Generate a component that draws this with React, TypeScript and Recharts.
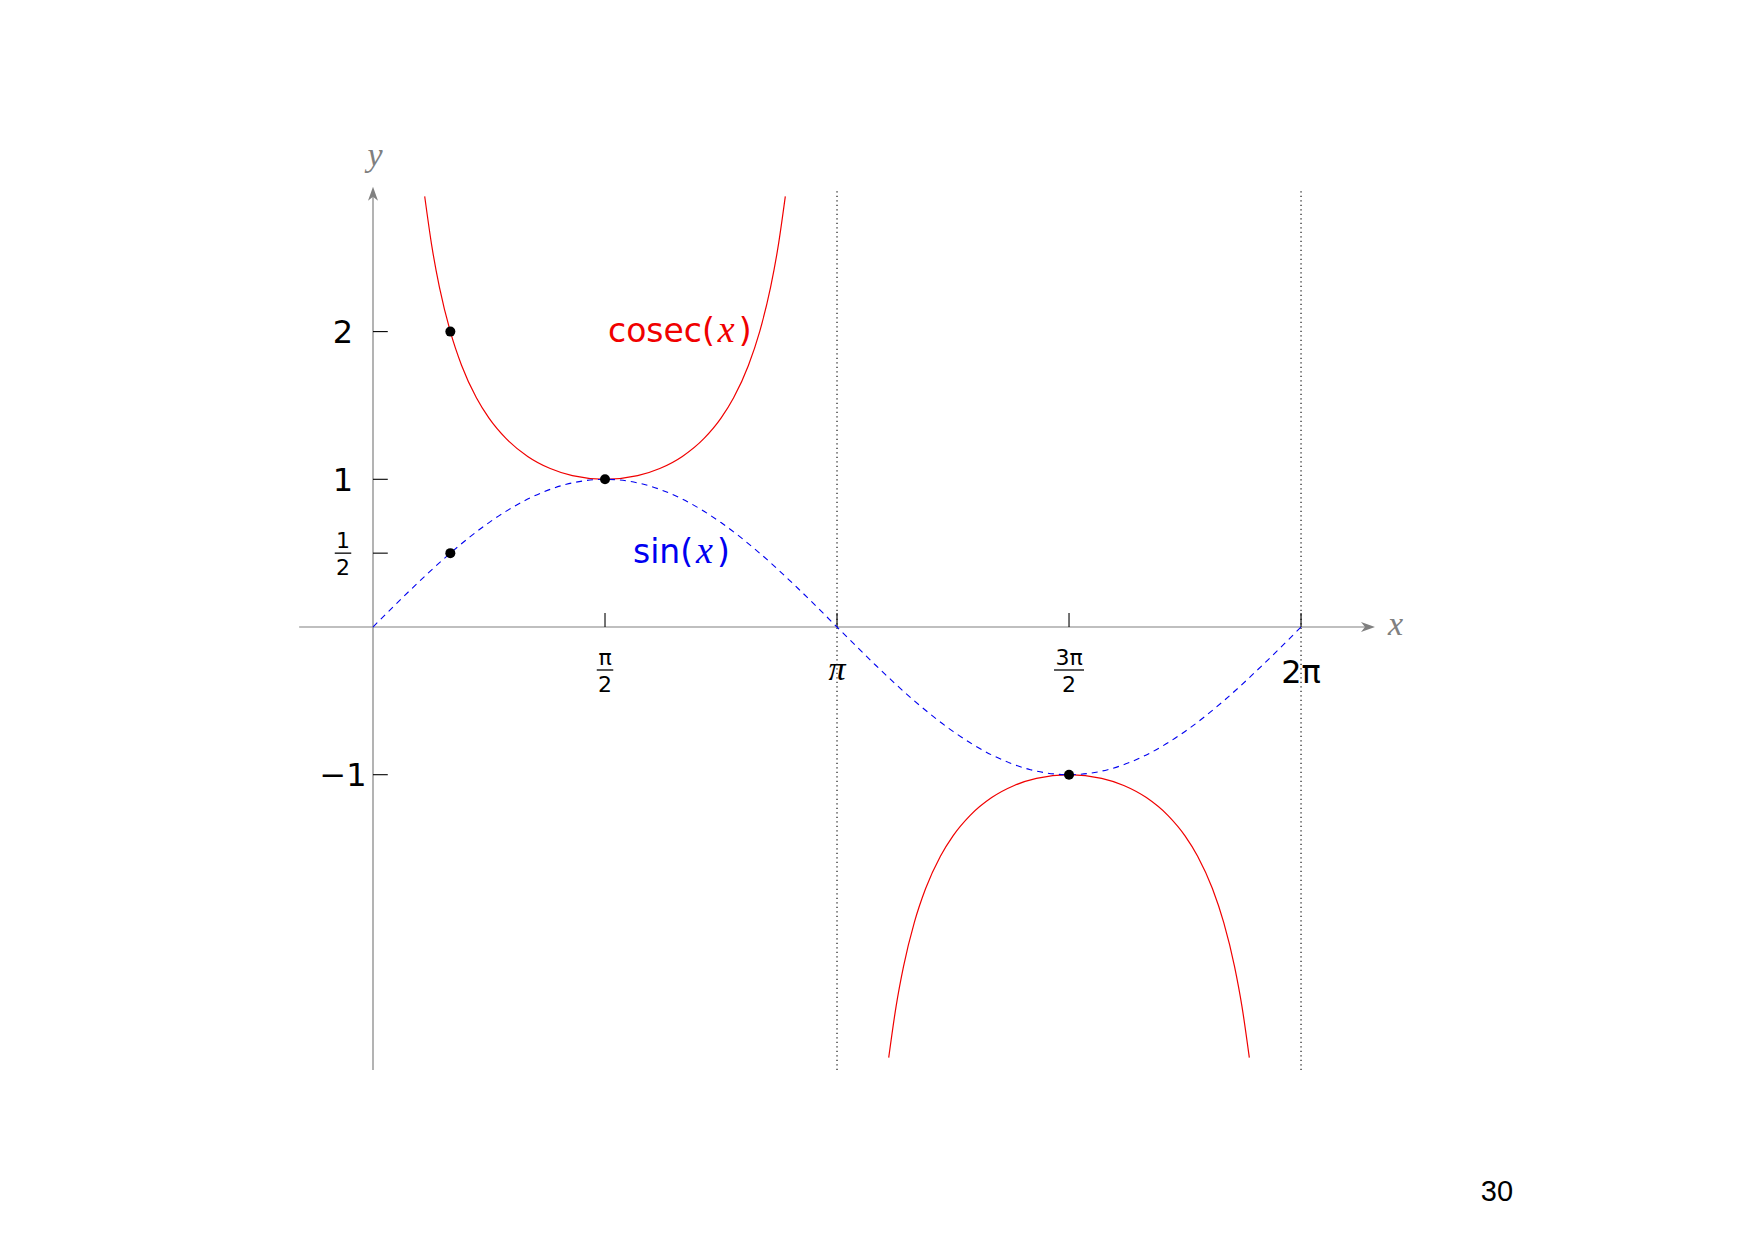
import {
  ComposedChart,
  Line,
  ReferenceDot,
  ReferenceLine,
  XAxis,
  YAxis,
} from "recharts"

// sin(x) sampled every pi/12 on [0, 2pi]
const sineX = [
  0, 0.2618, 0.5236, 0.7854, 1.0472, 1.309, 1.5708, 1.8326, 2.0944, 2.3562,
  2.618, 2.8798, 3.1416, 3.4034, 3.6652, 3.927, 4.1888, 4.4506, 4.7124,
  4.9742, 5.236, 5.4978, 5.7596, 6.0214, 6.2832,
]
const sineY = [
  0, 0.259, 0.5, 0.707, 0.866, 0.966, 1, 0.966, 0.866, 0.707, 0.5, 0.259, 0,
  -0.259, -0.5, -0.707, -0.866, -0.966, -1, -0.966, -0.866, -0.707, -0.5,
  -0.259, 0,
]

// cosec(x), upper branch on (0, pi), clipped near |y| = 2.9
const cosecUpperX = [
  0.35, 0.4, 0.45, 0.5236, 0.6, 0.7, 0.7854, 0.9, 1.0472, 1.2, 1.35, 1.5708,
  1.7916, 1.9416, 2.0944, 2.2416, 2.3562, 2.4416, 2.5416, 2.618, 2.6916,
  2.7416, 2.7916,
]
const cosecUpperY = [
  2.916, 2.568, 2.299, 2, 1.771, 1.552, 1.414, 1.277, 1.155, 1.073, 1.025, 1,
  1.025, 1.073, 1.155, 1.277, 1.414, 1.552, 1.771, 2, 2.299, 2.568, 2.916,
]

// cosec(x), lower branch on (pi, 2pi)
const cosecLowerX = [
  3.4916, 3.5416, 3.5916, 3.6652, 3.7416, 3.8416, 3.927, 4.0416, 4.1888,
  4.3416, 4.4916, 4.7124, 4.9332, 5.0832, 5.236, 5.3832, 5.4978, 5.5832,
  5.6832, 5.7596, 5.8332, 5.8832, 5.9332,
]
const cosecLowerY = [
  -2.916, -2.568, -2.299, -2, -1.771, -1.552, -1.414, -1.277, -1.155, -1.073,
  -1.025, -1, -1.025, -1.073, -1.155, -1.277, -1.414, -1.552, -1.771, -2,
  -2.299, -2.568, -2.916,
]

const markedX = [0.5236, 1.5708, 0.5236, 4.7124]
const markedY = [2, 1, 0.5, -1]

const xTickValues = [1.5708, 3.1416, 4.7124, 6.2832]
const xTickLabels = ["π/2", "π", "3π/2", "2π"]
const yTickValues = [2, 1, 0.5, -1]
const yTickLabels = ["2", "1", "1/2", "−1"]

const asymptoteX = [3.1416, 6.2832]

const curveNames = ["cosec", "sin"]
const curveLabelX = [1.591, 1.76]
const curveLabelY = [2, 0.5]

const X_DOMAIN: [number, number] = [-0.5, 6.8]
const Y_DOMAIN: [number, number] = [-3, 3]
const X_AXIS_END = 6.784
const Y_AXIS_END = 2.98

const K = 147.7
const ORIGIN_X = 373
const ORIGIN_Y = 627
const W = 1756
const H = 1242

const AXIS = "#808080"
const RED = "#f00000"
const BLUE = "#0000f0"
const SANS = "'DejaVu Sans', sans-serif"
const SERIF = "'Liberation Serif', serif"

const toPoints = (xs: number[], ys: number[]) =>
  xs.map((x, i) => ({ x, y: ys[i] }))

const sineData = toPoints(sineX, sineY)
const cosecUpper = toPoints(cosecUpperX, cosecUpperY)
const cosecLower = toPoints(cosecLowerX, cosecLowerY)

function arrowShape(p: any) {
  const { x1, y1, x2, y2 } = p
  const len = Math.hypot(x2 - x1, y2 - y1)
  const ux = (x2 - x1) / len
  const uy = (y2 - y1) / len
  const px = -uy
  const py = ux
  const bx = x2 - ux * 14
  const by = y2 - uy * 14
  const nx = x2 - ux * 10
  const ny = y2 - uy * 10
  const d = `M${x2},${y2} L${bx + px * 5},${by + py * 5} L${nx},${ny} L${bx - px * 5},${by - py * 5} Z`
  return (
    <g>
      <line x1={x1} y1={y1} x2={nx} y2={ny} stroke={AXIS} strokeWidth={1.2} />
      <path d={d} fill={AXIS} />
    </g>
  )
}

function Fraction({ x, bar, label }: { x: number; bar: number; label: string }) {
  const [num, den] = label.split("/")
  const width = 13.5 * Math.max(num.length, den.length) + 3
  return (
    <g fontFamily={SANS} fontSize={22} fill="#000" textAnchor="middle">
      <text x={x} y={bar - 5}>{num}</text>
      <line x1={x - width / 2} x2={x + width / 2} y1={bar} y2={bar} stroke="#000" strokeWidth={1.3} />
      <text x={x} y={bar + 22}>{den}</text>
    </g>
  )
}

function XTickLabel({ cx, cy, label }: { cx: number; cy: number; label: string }) {
  if (label.includes("/")) return <Fraction x={cx} bar={cy + 43} label={label} />
  if (label === "π") {
    return (
      <text x={cx} y={cy + 53} textAnchor="middle" fontFamily={SERIF} fontStyle="italic" fontSize={34} fill="#000">
        {label}
      </text>
    )
  }
  return (
    <text x={cx} y={cy + 56} textAnchor="middle" fontFamily={SANS} fontSize={32} fill="#000">
      {label}
    </text>
  )
}

function YTickLabel({ cx, cy, label }: { cx: number; cy: number; label: string }) {
  if (label.includes("/")) return <Fraction x={cx - 30} bar={cy} label={label} />
  return (
    <text x={cx - 30} y={cy + 11.5} textAnchor="middle" fontFamily={SANS} fontSize={32} fill="#000">
      {label}
    </text>
  )
}

function CurveLabel({ cx, cy, name, color }: { cx: number; cy: number; name: string; color: string }) {
  return (
    <text x={cx} y={cy + 10} fontFamily={SANS} fontSize={33} fill={color}>
      <tspan>{name}(</tspan>
      <tspan dx={3} fontFamily={SERIF} fontStyle="italic" fontSize={38}>x</tspan>
      <tspan dx={4}>)</tspan>
    </text>
  )
}

export default function App() {
  const margin = {
    left: ORIGIN_X + X_DOMAIN[0] * K,
    right: W - (ORIGIN_X + X_DOMAIN[1] * K),
    top: ORIGIN_Y - Y_DOMAIN[1] * K,
    bottom: H - (ORIGIN_Y - Y_DOMAIN[0] * K),
  }

  return (
    <div style={{ position: "absolute", left: 0, top: 0, width: W, height: H, background: "#fff" }}>
      <ComposedChart width={W} height={H} margin={margin}>
        <XAxis type="number" dataKey="x" domain={X_DOMAIN} allowDataOverflow hide />
        <YAxis type="number" dataKey="y" domain={Y_DOMAIN} allowDataOverflow hide />

        {asymptoteX.map((x) => (
          <ReferenceLine
            key={`asym-${x}`}
            ifOverflow="visible"
            segment={[{ x, y: Y_DOMAIN[0] }, { x, y: 2.97 }]}
            stroke="#000"
            strokeWidth={1.1}
            strokeDasharray="1.3 3.2"
          />
        ))}

        <ReferenceLine
          ifOverflow="visible"
          segment={[{ x: X_DOMAIN[0], y: 0 }, { x: X_AXIS_END, y: 0 }]}
          shape={arrowShape}
        />
        <ReferenceLine
          ifOverflow="visible"
          segment={[{ x: 0, y: Y_DOMAIN[0] }, { x: 0, y: Y_AXIS_END }]}
          shape={arrowShape}
        />

        {xTickValues.map((x) => (
          <ReferenceLine
            key={`xt-${x}`}
            ifOverflow="visible"
            segment={[{ x, y: 0 }, { x, y: 0.095 }]}
            stroke="#000"
            strokeWidth={1.1}
          />
        ))}
        {yTickValues.map((y) => (
          <ReferenceLine
            key={`yt-${y}`}
            ifOverflow="visible"
            segment={[{ x: 0, y }, { x: 0.1, y }]}
            stroke="#000"
            strokeWidth={1.1}
          />
        ))}

        <Line
          data={cosecUpper}
          dataKey="y"
          type="monotone"
          stroke={RED}
          strokeWidth={1.2}
          dot={false}
          activeDot={false}
          isAnimationActive={false}
        />
        <Line
          data={cosecLower}
          dataKey="y"
          type="monotone"
          stroke={RED}
          strokeWidth={1.2}
          dot={false}
          activeDot={false}
          isAnimationActive={false}
        />
        <Line
          data={sineData}
          dataKey="y"
          type="monotone"
          stroke={BLUE}
          strokeWidth={1.1}
          strokeDasharray="6 5"
          dot={false}
          activeDot={false}
          isAnimationActive={false}
        />

        {markedX.map((x, i) => (
          <ReferenceDot
            key={`pt-${i}`}
            x={x}
            y={markedY[i]}
            r={5}
            fill="#000"
            stroke="none"
            ifOverflow="visible"
          />
        ))}

        {xTickValues.map((x, i) => (
          <ReferenceDot
            key={`xl-${x}`}
            x={x}
            y={0}
            ifOverflow="visible"
            shape={(p: any) => <XTickLabel cx={p.cx} cy={p.cy} label={xTickLabels[i]} />}
          />
        ))}
        {yTickValues.map((y, i) => (
          <ReferenceDot
            key={`yl-${y}`}
            x={0}
            y={y}
            ifOverflow="visible"
            shape={(p: any) => <YTickLabel cx={p.cx} cy={p.cy} label={yTickLabels[i]} />}
          />
        ))}

        <ReferenceDot
          x={X_AXIS_END}
          y={0}
          ifOverflow="visible"
          shape={(p: any) => (
            <text x={p.cx + 13} y={p.cy + 8} fontFamily={SERIF} fontStyle="italic" fontSize={34} fill={AXIS}>
              x
            </text>
          )}
        />
        <ReferenceDot
          x={0}
          y={Y_AXIS_END}
          ifOverflow="visible"
          shape={(p: any) => (
            <text x={p.cx + 2} y={p.cy - 21} textAnchor="middle" fontFamily={SERIF} fontStyle="italic" fontSize={34} fill={AXIS}>
              y
            </text>
          )}
        />

        {curveNames.map((name, i) => (
          <ReferenceDot
            key={`cl-${name}`}
            x={curveLabelX[i]}
            y={curveLabelY[i]}
            ifOverflow="visible"
            shape={(p: any) => (
              <CurveLabel cx={p.cx} cy={p.cy} name={name} color={i === 0 ? RED : BLUE} />
            )}
          />
        ))}
      </ComposedChart>
      <div
        style={{
          position: "absolute",
          left: 1469,
          top: 1177,
          width: 56,
          textAlign: "center",
          fontFamily: "'Liberation Sans', Arial, sans-serif",
          fontSize: 29,
          lineHeight: "29px",
        }}
      >
        30
      </div>
    </div>
  )
}
